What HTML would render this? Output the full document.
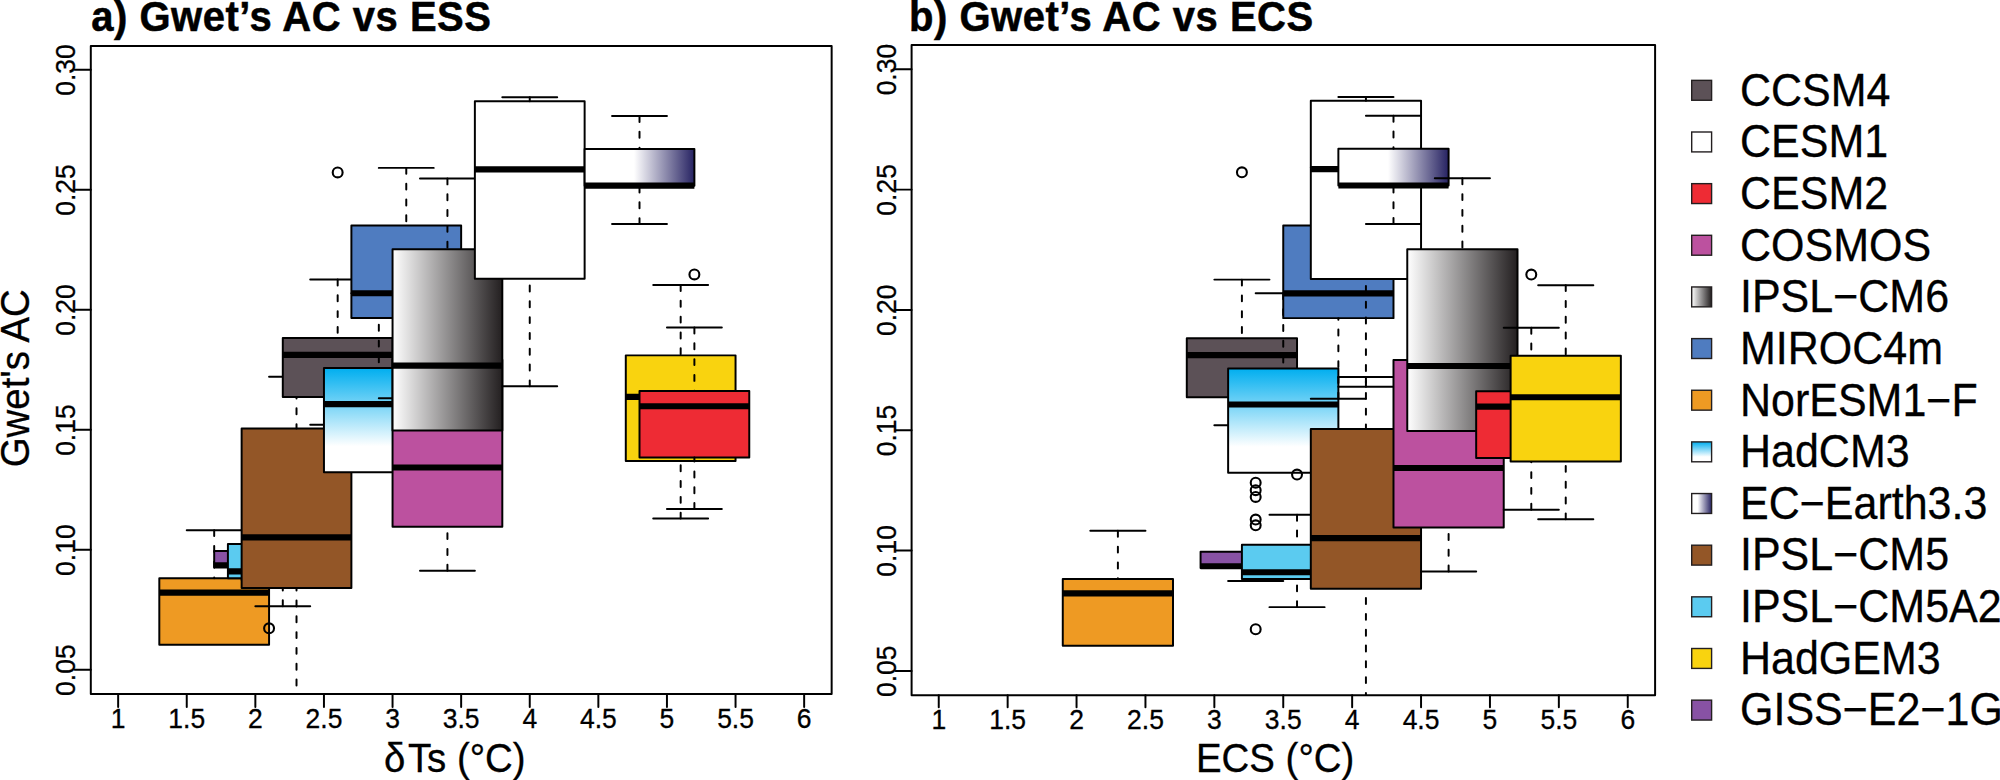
<!DOCTYPE html>
<html lang="en">
<head>
<meta charset="utf-8">
<title>Gwet's AC vs ESS and ECS</title>
<style>
html,body{margin:0;padding:0;background:#fff;}
body{width:2000px;height:780px;overflow:hidden;}
svg{display:block;}
svg text{font-family:"Liberation Sans", sans-serif;fill:#000;}
.l{stroke:#000;stroke-width:1.975;stroke-linecap:round;stroke-linejoin:round;fill:none;}
.w{stroke:#000;stroke-width:1.975;stroke-linecap:round;stroke-dasharray:5.93 9.88;fill:none;}
</style>
</head>
<body>
<svg width="2000" height="780" viewBox="0 0 2000 780">
<defs>
<linearGradient id="gCM6" x1="0" y1="0" x2="1" y2="0"><stop offset="0" stop-color="#FFFFFF"/><stop offset="1" stop-color="#231F20"/></linearGradient>
<linearGradient id="gHad" x1="0" y1="0" x2="0" y2="1"><stop offset="0" stop-color="#00AEEF"/><stop offset="0.75" stop-color="#FFFFFF"/><stop offset="1" stop-color="#FFFFFF"/></linearGradient>
<linearGradient id="gHadL" x1="0" y1="0" x2="0" y2="1"><stop offset="0" stop-color="#00AEEF"/><stop offset="0.75" stop-color="#FFFFFF"/><stop offset="1" stop-color="#FFFFFF"/></linearGradient>
<linearGradient id="gEC" x1="0" y1="0" x2="1" y2="0"><stop offset="0" stop-color="#FFFFFF"/><stop offset="0.45" stop-color="#FFFFFF"/><stop offset="1" stop-color="#262262"/></linearGradient>
<linearGradient id="gECL" x1="0" y1="0" x2="1" y2="0"><stop offset="0" stop-color="#FFFFFF"/><stop offset="0.3" stop-color="#FFFFFF"/><stop offset="1" stop-color="#262262"/></linearGradient>
<clipPath id="clip-a"><rect x="90.8" y="46.1" width="740.85" height="647.95"/></clipPath>
<clipPath id="clip-b"><rect x="911.6" y="45.1" width="743.5" height="650.15"/></clipPath>
</defs>
<rect x="0" y="0" width="2000" height="780" fill="#FFFFFF"/>
<text transform="translate(29.4 378.3) rotate(-90) scale(1 1.055)" font-size="38.4" text-anchor="middle" stroke="#000" stroke-width="0.3">Gwet's AC</text>
<g id="panel-a">
<text transform="translate(91.2 30.8) scale(1 1.04)" font-size="40" font-weight="bold" letter-spacing="0.52" stroke="#000" stroke-width="0.5">a) Gwet’s AC vs ESS</text>
<rect x="90.8" y="46.1" width="740.85" height="647.95" fill="none" class="l"/>
<path d="M118.15 694.05V707" class="l"/>
<text transform="translate(118.15 727.65) scale(1 1.055)" font-size="26.5" text-anchor="middle" stroke="#000" stroke-width="0.3">1</text>
<path d="M186.75 694.05V707" class="l"/>
<text transform="translate(186.75 727.65) scale(1 1.055)" font-size="26.5" text-anchor="middle" stroke="#000" stroke-width="0.3">1.5</text>
<path d="M255.35 694.05V707" class="l"/>
<text transform="translate(255.35 727.65) scale(1 1.055)" font-size="26.5" text-anchor="middle" stroke="#000" stroke-width="0.3">2</text>
<path d="M323.95 694.05V707" class="l"/>
<text transform="translate(323.95 727.65) scale(1 1.055)" font-size="26.5" text-anchor="middle" stroke="#000" stroke-width="0.3">2.5</text>
<path d="M392.55 694.05V707" class="l"/>
<text transform="translate(392.55 727.65) scale(1 1.055)" font-size="26.5" text-anchor="middle" stroke="#000" stroke-width="0.3">3</text>
<path d="M461.15 694.05V707" class="l"/>
<text transform="translate(461.15 727.65) scale(1 1.055)" font-size="26.5" text-anchor="middle" stroke="#000" stroke-width="0.3">3.5</text>
<path d="M529.75 694.05V707" class="l"/>
<text transform="translate(529.75 727.65) scale(1 1.055)" font-size="26.5" text-anchor="middle" stroke="#000" stroke-width="0.3">4</text>
<path d="M598.35 694.05V707" class="l"/>
<text transform="translate(598.35 727.65) scale(1 1.055)" font-size="26.5" text-anchor="middle" stroke="#000" stroke-width="0.3">4.5</text>
<path d="M666.95 694.05V707" class="l"/>
<text transform="translate(666.95 727.65) scale(1 1.055)" font-size="26.5" text-anchor="middle" stroke="#000" stroke-width="0.3">5</text>
<path d="M735.55 694.05V707" class="l"/>
<text transform="translate(735.55 727.65) scale(1 1.055)" font-size="26.5" text-anchor="middle" stroke="#000" stroke-width="0.3">5.5</text>
<path d="M804.15 694.05V707" class="l"/>
<text transform="translate(804.15 727.65) scale(1 1.055)" font-size="26.5" text-anchor="middle" stroke="#000" stroke-width="0.3">6</text>
<path d="M90.8 669.85h-16" class="l"/>
<text transform="translate(75.3 670.15) rotate(-90) scale(1 1.055)" font-size="26.5" text-anchor="middle" stroke="#000" stroke-width="0.3">0.05</text>
<path d="M90.8 549.82h-16" class="l"/>
<text transform="translate(75.3 550.12) rotate(-90) scale(1 1.055)" font-size="26.5" text-anchor="middle" stroke="#000" stroke-width="0.3">0.10</text>
<path d="M90.8 429.79h-16" class="l"/>
<text transform="translate(75.3 430.09) rotate(-90) scale(1 1.055)" font-size="26.5" text-anchor="middle" stroke="#000" stroke-width="0.3">0.15</text>
<path d="M90.8 309.76h-16" class="l"/>
<text transform="translate(75.3 310.06) rotate(-90) scale(1 1.055)" font-size="26.5" text-anchor="middle" stroke="#000" stroke-width="0.3">0.20</text>
<path d="M90.8 189.73h-16" class="l"/>
<text transform="translate(75.3 190.03) rotate(-90) scale(1 1.055)" font-size="26.5" text-anchor="middle" stroke="#000" stroke-width="0.3">0.25</text>
<path d="M90.8 69.7h-16" class="l"/>
<text transform="translate(75.3 70) rotate(-90) scale(1 1.055)" font-size="26.5" text-anchor="middle" stroke="#000" stroke-width="0.3">0.30</text>
<text transform="translate(384 771.8) scale(1 1.055)" font-size="38.4" stroke="#000" stroke-width="0.3">δ<tspan dx="2.5">Ts (°C)</tspan></text>
<g clip-path="url(#clip-a)">
<g><rect x="159.31" y="578.15" width="109.76" height="66.5" fill="#EE9A23"/>
<path d="M159.31 592.55H269.07" stroke="#000" stroke-width="6.15" stroke-linecap="butt"/>
<path d="M214.19 530.14V578.15" class="w"/>
<path d="M186.75 530.14H241.63" class="l"/>
<rect x="159.31" y="578.15" width="109.76" height="66.5" fill="none" class="l"/></g>
<g><rect x="214.19" y="551.02" width="109.76" height="16.08" fill="#8852A4"/>
<path d="M214.19 565.42H323.95" stroke="#000" stroke-width="6.15" stroke-linecap="butt"/>
<path d="M269.07 580.07V567.1" class="w"/>
<path d="M241.63 580.07H296.51" class="l"/>
<rect x="214.19" y="551.02" width="109.76" height="16.08" fill="none" class="l"/>
<circle cx="269.07" cy="482.12" r="4.95" fill="none" stroke="#000" stroke-width="2.1"/>
<circle cx="269.07" cy="489.56" r="4.95" fill="none" stroke="#000" stroke-width="2.1"/>
<circle cx="269.07" cy="496.29" r="4.95" fill="none" stroke="#000" stroke-width="2.1"/>
<circle cx="269.07" cy="518.85" r="4.95" fill="none" stroke="#000" stroke-width="2.1"/>
<circle cx="269.07" cy="524.61" r="4.95" fill="none" stroke="#000" stroke-width="2.1"/>
<circle cx="269.07" cy="628.32" r="4.95" fill="none" stroke="#000" stroke-width="2.1"/></g>
<g><rect x="227.91" y="544.06" width="109.76" height="34.09" fill="#5BCBF0"/>
<path d="M227.91 571.43H337.67" stroke="#000" stroke-width="6.15" stroke-linecap="butt"/>
<path d="M282.79 606.23V578.15" class="w"/>
<path d="M255.35 606.23H310.23" class="l"/>
<path d="M282.79 514.05V544.06" class="w"/>
<path d="M255.35 514.05H310.23" class="l"/>
<rect x="227.91" y="544.06" width="109.76" height="34.09" fill="none" class="l"/>
<circle cx="282.79" cy="473.96" r="4.95" fill="none" stroke="#000" stroke-width="2.1"/></g>
<g><rect x="241.63" y="428.59" width="109.76" height="159.4" fill="#935627"/>
<path d="M241.63 537.34H351.39" stroke="#000" stroke-width="6.15" stroke-linecap="butt"/>
<path d="M296.51 717.1V587.99" class="w"/>
<path d="M269.07 717.1H323.95" class="l"/>
<path d="M296.51 376.74V428.59" class="w"/>
<path d="M269.07 376.74H323.95" class="l"/>
<rect x="241.63" y="428.59" width="109.76" height="159.4" fill="none" class="l"/></g>
<g><rect x="282.79" y="338.09" width="109.76" height="58.81" fill="#5C5157"/>
<path d="M282.79 354.89H392.55" stroke="#000" stroke-width="6.15" stroke-linecap="butt"/>
<path d="M337.67 424.75V396.9" class="w"/>
<path d="M310.23 424.75H365.11" class="l"/>
<path d="M337.67 279.51V338.09" class="w"/>
<path d="M310.23 279.51H365.11" class="l"/>
<rect x="282.79" y="338.09" width="109.76" height="58.81" fill="none" class="l"/>
<circle cx="337.67" cy="172.45" r="4.95" fill="none" stroke="#000" stroke-width="2.1"/></g>
<g><rect x="323.95" y="368.09" width="109.76" height="104.19" fill="url(#gHad)"/>
<path d="M323.95 404.1H433.71" stroke="#000" stroke-width="6.15" stroke-linecap="butt"/>
<path d="M378.83 293.2V368.09" class="w"/>
<path d="M351.39 293.2H406.27" class="l"/>
<rect x="323.95" y="368.09" width="109.76" height="104.19" fill="none" class="l"/></g>
<g><rect x="351.39" y="225.5" width="109.76" height="92.42" fill="#4F7CC0"/>
<path d="M351.39 293.2H461.15" stroke="#000" stroke-width="6.15" stroke-linecap="butt"/>
<path d="M406.27 398.34V317.92" class="w"/>
<path d="M378.83 398.34H433.71" class="l"/>
<path d="M406.27 167.88V225.5" class="w"/>
<path d="M378.83 167.88H433.71" class="l"/>
<rect x="351.39" y="225.5" width="109.76" height="92.42" fill="none" class="l"/></g>
<g><rect x="392.55" y="359.69" width="109.76" height="167.08" fill="#BC519F"/>
<path d="M392.55 467.48H502.31" stroke="#000" stroke-width="6.15" stroke-linecap="butt"/>
<path d="M447.43 570.71V526.77" class="w"/>
<path d="M419.99 570.71H474.87" class="l"/>
<rect x="392.55" y="359.69" width="109.76" height="167.08" fill="none" class="l"/></g>
<g><rect x="392.55" y="249.26" width="109.76" height="181.25" fill="url(#gCM6)"/>
<path d="M392.55 365.69H502.31" stroke="#000" stroke-width="6.15" stroke-linecap="butt"/>
<path d="M447.43 178.45V249.26" class="w"/>
<path d="M419.99 178.45H474.87" class="l"/>
<rect x="392.55" y="249.26" width="109.76" height="181.25" fill="none" class="l"/></g>
<g><rect x="474.87" y="101.15" width="109.76" height="177.64" fill="#FFFFFF"/>
<path d="M474.87 169.32H584.63" stroke="#000" stroke-width="6.15" stroke-linecap="butt"/>
<path d="M529.75 386.34V278.79" class="w"/>
<path d="M502.31 386.34H557.19" class="l"/>
<path d="M529.75 97.31V101.15" class="w"/>
<path d="M502.31 97.31H557.19" class="l"/>
<rect x="474.87" y="101.15" width="109.76" height="177.64" fill="none" class="l"/></g>
<g><rect x="584.63" y="148.92" width="109.76" height="36.73" fill="url(#gEC)"/>
<path d="M584.63 185.65H694.39" stroke="#000" stroke-width="6.15" stroke-linecap="butt"/>
<path d="M639.51 224.06V185.65" class="w"/>
<path d="M612.07 224.06H666.95" class="l"/>
<path d="M639.51 116.03V148.92" class="w"/>
<path d="M612.07 116.03H666.95" class="l"/>
<rect x="584.63" y="148.92" width="109.76" height="36.73" fill="none" class="l"/></g>
<g><rect x="625.79" y="355.37" width="109.76" height="105.63" fill="#F9D30F"/>
<path d="M625.79 396.9H735.55" stroke="#000" stroke-width="6.15" stroke-linecap="butt"/>
<path d="M680.67 518.61V461" class="w"/>
<path d="M653.23 518.61H708.11" class="l"/>
<path d="M680.67 285.03V355.37" class="w"/>
<path d="M653.23 285.03H708.11" class="l"/>
<rect x="625.79" y="355.37" width="109.76" height="105.63" fill="none" class="l"/></g>
<g><rect x="639.51" y="390.9" width="109.76" height="66.5" fill="#EE2B34"/>
<path d="M639.51 406.26H749.27" stroke="#000" stroke-width="6.15" stroke-linecap="butt"/>
<path d="M694.39 509.01V457.4" class="w"/>
<path d="M666.95 509.01H721.83" class="l"/>
<path d="M694.39 327.52V390.9" class="w"/>
<path d="M666.95 327.52H721.83" class="l"/>
<rect x="639.51" y="390.9" width="109.76" height="66.5" fill="none" class="l"/>
<circle cx="694.39" cy="274.47" r="4.95" fill="none" stroke="#000" stroke-width="2.1"/></g>
</g>
</g>
<g id="panel-b">
<text transform="translate(909 30.8) scale(1 1.04)" font-size="40" font-weight="bold" letter-spacing="0.52" stroke="#000" stroke-width="0.5">b) Gwet’s AC vs ECS</text>
<rect x="911.6" y="45.1" width="743.5" height="650.15" fill="none" class="l"/>
<path d="M938.75 695.25V707.3" class="l"/>
<text transform="translate(938.75 729.4) scale(1 1.055)" font-size="26.5" text-anchor="middle" stroke="#000" stroke-width="0.3">1</text>
<path d="M1007.65 695.25V707.3" class="l"/>
<text transform="translate(1007.65 729.4) scale(1 1.055)" font-size="26.5" text-anchor="middle" stroke="#000" stroke-width="0.3">1.5</text>
<path d="M1076.55 695.25V707.3" class="l"/>
<text transform="translate(1076.55 729.4) scale(1 1.055)" font-size="26.5" text-anchor="middle" stroke="#000" stroke-width="0.3">2</text>
<path d="M1145.45 695.25V707.3" class="l"/>
<text transform="translate(1145.45 729.4) scale(1 1.055)" font-size="26.5" text-anchor="middle" stroke="#000" stroke-width="0.3">2.5</text>
<path d="M1214.35 695.25V707.3" class="l"/>
<text transform="translate(1214.35 729.4) scale(1 1.055)" font-size="26.5" text-anchor="middle" stroke="#000" stroke-width="0.3">3</text>
<path d="M1283.25 695.25V707.3" class="l"/>
<text transform="translate(1283.25 729.4) scale(1 1.055)" font-size="26.5" text-anchor="middle" stroke="#000" stroke-width="0.3">3.5</text>
<path d="M1352.15 695.25V707.3" class="l"/>
<text transform="translate(1352.15 729.4) scale(1 1.055)" font-size="26.5" text-anchor="middle" stroke="#000" stroke-width="0.3">4</text>
<path d="M1421.05 695.25V707.3" class="l"/>
<text transform="translate(1421.05 729.4) scale(1 1.055)" font-size="26.5" text-anchor="middle" stroke="#000" stroke-width="0.3">4.5</text>
<path d="M1489.95 695.25V707.3" class="l"/>
<text transform="translate(1489.95 729.4) scale(1 1.055)" font-size="26.5" text-anchor="middle" stroke="#000" stroke-width="0.3">5</text>
<path d="M1558.85 695.25V707.3" class="l"/>
<text transform="translate(1558.85 729.4) scale(1 1.055)" font-size="26.5" text-anchor="middle" stroke="#000" stroke-width="0.3">5.5</text>
<path d="M1627.75 695.25V707.3" class="l"/>
<text transform="translate(1627.75 729.4) scale(1 1.055)" font-size="26.5" text-anchor="middle" stroke="#000" stroke-width="0.3">6</text>
<path d="M911.6 670.9h-16" class="l"/>
<text transform="translate(895.7 671.2) rotate(-90) scale(1 1.055)" font-size="26.5" text-anchor="middle" stroke="#000" stroke-width="0.3">0.05</text>
<path d="M911.6 550.58h-16" class="l"/>
<text transform="translate(895.7 550.88) rotate(-90) scale(1 1.055)" font-size="26.5" text-anchor="middle" stroke="#000" stroke-width="0.3">0.10</text>
<path d="M911.6 430.26h-16" class="l"/>
<text transform="translate(895.7 430.56) rotate(-90) scale(1 1.055)" font-size="26.5" text-anchor="middle" stroke="#000" stroke-width="0.3">0.15</text>
<path d="M911.6 309.94h-16" class="l"/>
<text transform="translate(895.7 310.24) rotate(-90) scale(1 1.055)" font-size="26.5" text-anchor="middle" stroke="#000" stroke-width="0.3">0.20</text>
<path d="M911.6 189.62h-16" class="l"/>
<text transform="translate(895.7 189.92) rotate(-90) scale(1 1.055)" font-size="26.5" text-anchor="middle" stroke="#000" stroke-width="0.3">0.25</text>
<path d="M911.6 69.3h-16" class="l"/>
<text transform="translate(895.7 69.6) rotate(-90) scale(1 1.055)" font-size="26.5" text-anchor="middle" stroke="#000" stroke-width="0.3">0.30</text>
<text transform="translate(1196 771.8) scale(1 1.055)" font-size="38.4" stroke="#000" stroke-width="0.3">ECS (°C)</text>
<g clip-path="url(#clip-b)">
<g><rect x="1062.77" y="578.98" width="110.24" height="66.66" fill="#EE9A23"/>
<path d="M1062.77 593.41H1173.01" stroke="#000" stroke-width="6.15" stroke-linecap="butt"/>
<path d="M1117.89 530.85V578.98" class="w"/>
<path d="M1090.33 530.85H1145.45" class="l"/>
<rect x="1062.77" y="578.98" width="110.24" height="66.66" fill="none" class="l"/></g>
<g><rect x="1186.79" y="338.34" width="110.24" height="58.96" fill="#5C5157"/>
<path d="M1186.79 355.18H1297.03" stroke="#000" stroke-width="6.15" stroke-linecap="butt"/>
<path d="M1241.91 425.21V397.29" class="w"/>
<path d="M1214.35 425.21H1269.47" class="l"/>
<path d="M1241.91 279.62V338.34" class="w"/>
<path d="M1214.35 279.62H1269.47" class="l"/>
<rect x="1186.79" y="338.34" width="110.24" height="58.96" fill="none" class="l"/>
<circle cx="1241.91" cy="172.29" r="4.95" fill="none" stroke="#000" stroke-width="2.1"/></g>
<g><rect x="1200.57" y="551.78" width="110.24" height="16.12" fill="#8852A4"/>
<path d="M1200.57 566.22H1310.81" stroke="#000" stroke-width="6.15" stroke-linecap="butt"/>
<path d="M1255.69 580.9V567.91" class="w"/>
<path d="M1228.13 580.9H1283.25" class="l"/>
<rect x="1200.57" y="551.78" width="110.24" height="16.12" fill="none" class="l"/>
<circle cx="1255.69" cy="482.72" r="4.95" fill="none" stroke="#000" stroke-width="2.1"/>
<circle cx="1255.69" cy="490.18" r="4.95" fill="none" stroke="#000" stroke-width="2.1"/>
<circle cx="1255.69" cy="496.92" r="4.95" fill="none" stroke="#000" stroke-width="2.1"/>
<circle cx="1255.69" cy="519.54" r="4.95" fill="none" stroke="#000" stroke-width="2.1"/>
<circle cx="1255.69" cy="525.31" r="4.95" fill="none" stroke="#000" stroke-width="2.1"/>
<circle cx="1255.69" cy="629.27" r="4.95" fill="none" stroke="#000" stroke-width="2.1"/></g>
<g><rect x="1228.13" y="368.42" width="110.24" height="104.44" fill="url(#gHad)"/>
<path d="M1228.13 404.51H1338.37" stroke="#000" stroke-width="6.15" stroke-linecap="butt"/>
<path d="M1283.25 293.34V368.42" class="w"/>
<path d="M1255.69 293.34H1310.81" class="l"/>
<rect x="1228.13" y="368.42" width="110.24" height="104.44" fill="none" class="l"/></g>
<g><rect x="1241.91" y="544.8" width="110.24" height="34.17" fill="#5BCBF0"/>
<path d="M1241.91 572.24H1352.15" stroke="#000" stroke-width="6.15" stroke-linecap="butt"/>
<path d="M1297.03 607.13V578.98" class="w"/>
<path d="M1269.47 607.13H1324.59" class="l"/>
<path d="M1297.03 514.72V544.8" class="w"/>
<path d="M1269.47 514.72H1324.59" class="l"/>
<rect x="1241.91" y="544.8" width="110.24" height="34.17" fill="none" class="l"/>
<circle cx="1297.03" cy="474.54" r="4.95" fill="none" stroke="#000" stroke-width="2.1"/></g>
<g><rect x="1283.25" y="225.48" width="110.24" height="92.65" fill="#4F7CC0"/>
<path d="M1283.25 293.34H1393.49" stroke="#000" stroke-width="6.15" stroke-linecap="butt"/>
<path d="M1338.37 398.74V318.12" class="w"/>
<path d="M1310.81 398.74H1365.93" class="l"/>
<path d="M1338.37 167.72V225.48" class="w"/>
<path d="M1310.81 167.72H1365.93" class="l"/>
<rect x="1283.25" y="225.48" width="110.24" height="92.65" fill="none" class="l"/></g>
<g><rect x="1310.81" y="100.82" width="110.24" height="178.07" fill="#FFFFFF"/>
<path d="M1310.81 169.17H1421.05" stroke="#000" stroke-width="6.15" stroke-linecap="butt"/>
<path d="M1365.93 386.7V278.9" class="w"/>
<path d="M1338.37 386.7H1393.49" class="l"/>
<path d="M1365.93 96.97V100.82" class="w"/>
<path d="M1338.37 96.97H1393.49" class="l"/>
<rect x="1310.81" y="100.82" width="110.24" height="178.07" fill="none" class="l"/></g>
<g><rect x="1310.81" y="429.06" width="110.24" height="159.78" fill="#935627"/>
<path d="M1310.81 538.07H1421.05" stroke="#000" stroke-width="6.15" stroke-linecap="butt"/>
<path d="M1365.93 714.7V588.84" class="w"/>
<path d="M1338.37 714.7H1393.49" class="l"/>
<path d="M1365.93 377.08V429.06" class="w"/>
<path d="M1338.37 377.08H1393.49" class="l"/>
<rect x="1310.81" y="429.06" width="110.24" height="159.78" fill="none" class="l"/></g>
<g><rect x="1338.37" y="148.71" width="110.24" height="36.82" fill="url(#gEC)"/>
<path d="M1338.37 185.53H1448.61" stroke="#000" stroke-width="6.15" stroke-linecap="butt"/>
<path d="M1393.49 224.03V185.53" class="w"/>
<path d="M1365.93 224.03H1421.05" class="l"/>
<path d="M1393.49 115.74V148.71" class="w"/>
<path d="M1365.93 115.74H1421.05" class="l"/>
<rect x="1338.37" y="148.71" width="110.24" height="36.82" fill="none" class="l"/></g>
<g><rect x="1393.49" y="359.99" width="110.24" height="167.49" fill="#BC519F"/>
<path d="M1393.49 468.04H1503.73" stroke="#000" stroke-width="6.15" stroke-linecap="butt"/>
<path d="M1448.61 571.52V527.48" class="w"/>
<path d="M1421.05 571.52H1476.17" class="l"/>
<rect x="1393.49" y="359.99" width="110.24" height="167.49" fill="none" class="l"/></g>
<g><rect x="1407.27" y="249.3" width="110.24" height="181.68" fill="url(#gCM6)"/>
<path d="M1407.27 366.01H1517.51" stroke="#000" stroke-width="6.15" stroke-linecap="butt"/>
<path d="M1462.39 178.31V249.3" class="w"/>
<path d="M1434.83 178.31H1489.95" class="l"/>
<rect x="1407.27" y="249.3" width="110.24" height="181.68" fill="none" class="l"/></g>
<g><rect x="1476.17" y="391.28" width="110.24" height="66.66" fill="#EE2B34"/>
<path d="M1476.17 406.68H1586.41" stroke="#000" stroke-width="6.15" stroke-linecap="butt"/>
<path d="M1531.29 509.67V457.93" class="w"/>
<path d="M1503.73 509.67H1558.85" class="l"/>
<path d="M1531.29 327.75V391.28" class="w"/>
<path d="M1503.73 327.75H1558.85" class="l"/>
<rect x="1476.17" y="391.28" width="110.24" height="66.66" fill="none" class="l"/>
<circle cx="1531.29" cy="274.57" r="4.95" fill="none" stroke="#000" stroke-width="2.1"/></g>
<g><rect x="1510.62" y="355.66" width="110.24" height="105.88" fill="#F9D30F"/>
<path d="M1510.62 397.29H1620.86" stroke="#000" stroke-width="6.15" stroke-linecap="butt"/>
<path d="M1565.74 519.3V461.54" class="w"/>
<path d="M1538.18 519.3H1593.3" class="l"/>
<path d="M1565.74 285.15V355.66" class="w"/>
<path d="M1538.18 285.15H1593.3" class="l"/>
<rect x="1510.62" y="355.66" width="110.24" height="105.88" fill="none" class="l"/></g>
</g>
</g>
<g id="legend">
<rect x="1691.7" y="80.35" width="19.9" height="19.9" fill="#5C5157" stroke="#231F20" stroke-width="1.4"/>
<text transform="translate(1740 105.6) scale(1 1.055)" font-size="43" stroke="#000" stroke-width="0.3">CCSM4</text>
<rect x="1691.7" y="132" width="19.9" height="19.9" fill="#FFFFFF" stroke="#231F20" stroke-width="1.4"/>
<text transform="translate(1740 157.25) scale(1 1.055)" font-size="43" stroke="#000" stroke-width="0.3">CESM1</text>
<rect x="1691.7" y="183.65" width="19.9" height="19.9" fill="#EE2B34" stroke="#231F20" stroke-width="1.4"/>
<text transform="translate(1740 208.9) scale(1 1.055)" font-size="43" stroke="#000" stroke-width="0.3">CESM2</text>
<rect x="1691.7" y="235.3" width="19.9" height="19.9" fill="#BC519F" stroke="#231F20" stroke-width="1.4"/>
<text transform="translate(1740 260.55) scale(1 1.055)" font-size="43" stroke="#000" stroke-width="0.3">COSMOS</text>
<rect x="1691.7" y="286.95" width="19.9" height="19.9" fill="url(#gCM6)" stroke="#231F20" stroke-width="1.4"/>
<text transform="translate(1740 312.2) scale(1 1.055)" font-size="43" stroke="#000" stroke-width="0.3">IPSL−CM6</text>
<rect x="1691.7" y="338.6" width="19.9" height="19.9" fill="#4F7CC0" stroke="#231F20" stroke-width="1.4"/>
<text transform="translate(1740 363.85) scale(1 1.055)" font-size="43" stroke="#000" stroke-width="0.3">MIROC4m</text>
<rect x="1691.7" y="390.25" width="19.9" height="19.9" fill="#EE9A23" stroke="#231F20" stroke-width="1.4"/>
<text transform="translate(1740 415.5) scale(1 1.055)" font-size="43" stroke="#000" stroke-width="0.3">NorESM1−F</text>
<rect x="1691.7" y="441.9" width="19.9" height="19.9" fill="url(#gHadL)" stroke="#231F20" stroke-width="1.4"/>
<text transform="translate(1740 467.15) scale(1 1.055)" font-size="43" stroke="#000" stroke-width="0.3">HadCM3</text>
<rect x="1691.7" y="493.55" width="19.9" height="19.9" fill="url(#gECL)" stroke="#231F20" stroke-width="1.4"/>
<text transform="translate(1740 518.8) scale(1 1.055)" font-size="43" stroke="#000" stroke-width="0.3">EC−Earth3.3</text>
<rect x="1691.7" y="545.2" width="19.9" height="19.9" fill="#935627" stroke="#231F20" stroke-width="1.4"/>
<text transform="translate(1740 570.45) scale(1 1.055)" font-size="43" stroke="#000" stroke-width="0.3">IPSL−CM5</text>
<rect x="1691.7" y="596.85" width="19.9" height="19.9" fill="#5BCBF0" stroke="#231F20" stroke-width="1.4"/>
<text transform="translate(1740 622.1) scale(1 1.055)" font-size="43" stroke="#000" stroke-width="0.3">IPSL−CM5A2</text>
<rect x="1691.7" y="648.5" width="19.9" height="19.9" fill="#F9D30F" stroke="#231F20" stroke-width="1.4"/>
<text transform="translate(1740 673.75) scale(1 1.055)" font-size="43" stroke="#000" stroke-width="0.3">HadGEM3</text>
<rect x="1691.7" y="700.15" width="19.9" height="19.9" fill="#8852A4" stroke="#231F20" stroke-width="1.4"/>
<text transform="translate(1740 725.4) scale(1 1.055)" font-size="43" stroke="#000" stroke-width="0.3">GISS−E2−1G</text>
</g>
</svg>
</body>
</html>
